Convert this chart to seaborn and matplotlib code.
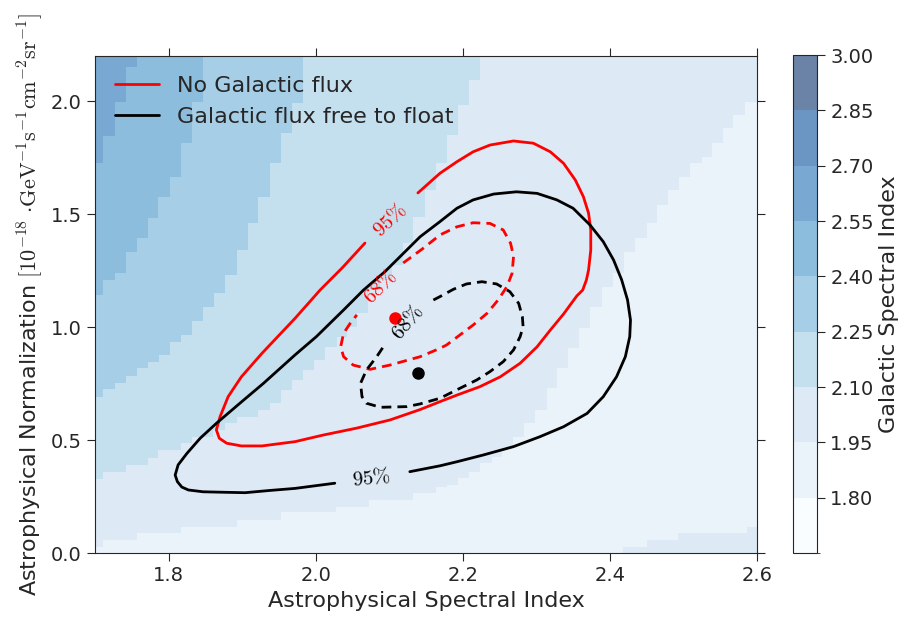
import matplotlib
matplotlib.use("Agg")
import matplotlib.pyplot as plt
import seaborn as sns
import numpy as np
from matplotlib.colors import BoundaryNorm, ListedColormap
from matplotlib.cm import ScalarMappable
from matplotlib.lines import Line2D

# galactic spectral index bins shown in the colour bar
cbar_levels = [1.65, 1.80, 1.95, 2.10, 2.25, 2.40, 2.55, 2.70, 2.85, 3.00]

# staircase edges of the best-fit galactic index map (x edge starting at each y)
b195_y = [0.0, 0.027, 0.058, 0.089, 0.115, 0.146, 0.181, 0.204, 0.235, 0.266,
          0.292, 0.301, 0.332, 0.359, 0.398, 0.425, 0.465, 0.513, 0.575, 0.633,
          0.730, 0.819, 0.907, 0.996, 1.089, 1.177, 1.239, 1.332, 1.394, 1.461,
          1.540, 1.607, 1.664, 1.726, 1.753, 1.815, 1.881, 1.939, 1.996, 2.2]
b195_x = [1.700, 1.711, 1.757, 1.817, 1.893, 1.953, 2.028, 2.072, 2.132, 2.164,
          2.179, 2.193, 2.208, 2.223, 2.240, 2.253, 2.268, 2.283, 2.298, 2.314,
          2.328, 2.343, 2.358, 2.373, 2.389, 2.404, 2.419, 2.434, 2.450, 2.464,
          2.479, 2.494, 2.509, 2.525, 2.539, 2.554, 2.567, 2.584, 2.600, 2.600]
patch_y = [0.0, 0.027, 0.058, 0.089, 0.115]
patch_x = [2.418, 2.450, 2.493, 2.586, 2.600]
b210_y = [0.328, 0.359, 0.390, 0.421, 0.456, 0.487, 0.513, 0.544, 0.575, 0.602,
          0.633, 0.664, 0.722, 0.766, 0.810, 0.854, 0.912, 0.956, 1.000, 1.062,
          1.164, 1.208, 1.275, 1.372, 1.487, 1.607, 1.726, 1.850, 1.983, 2.094, 2.2]
b210_x = [1.711, 1.742, 1.772, 1.786, 1.817, 1.832, 1.860, 1.877, 1.893, 1.922,
          1.938, 1.953, 1.968, 1.983, 1.998, 2.013, 2.029, 2.043, 2.056, 2.071,
          2.087, 2.104, 2.119, 2.132, 2.149, 2.164, 2.179, 2.193, 2.208, 2.223, 2.223]
b225_y = [0.691, 0.726, 0.753, 0.784, 0.819, 0.845, 0.876, 0.934, 0.965, 1.027,
          1.089, 1.151, 1.231, 1.341, 1.461, 1.576, 1.726, 1.859, 1.992, 2.2]
b225_x = [1.711, 1.727, 1.742, 1.757, 1.772, 1.787, 1.802, 1.817, 1.832, 1.847,
          1.862, 1.877, 1.893, 1.908, 1.922, 1.938, 1.953, 1.968, 1.983, 1.983]
b240_y = [1.142, 1.208, 1.239, 1.332, 1.394, 1.483, 1.576, 1.664, 1.815, 1.996, 2.2]
b240_x = [1.711, 1.727, 1.742, 1.757, 1.772, 1.786, 1.802, 1.817, 1.832, 1.847, 1.847]
b255_y = [1.726, 1.846, 1.996, 2.151, 2.2]
b255_x = [1.711, 1.727, 1.742, 1.757, 1.757]

# 95% contour, no galactic flux (gap at the label)
red95_x = [2.139, 2.169, 2.192, 2.214, 2.237, 2.269, 2.296, 2.319, 2.337, 2.353,
           2.364, 2.371, 2.374, 2.374, 2.371, 2.368, 2.363, 2.355, 2.346, 2.337,
           2.319, 2.301, 2.278, 2.251, 2.223, 2.192, 2.169, 2.142, 2.101, 2.056,
           2.010, 1.972, 1.927, 1.899, 1.879, 1.869, 1.865, 1.870, 1.881, 1.899,
           1.927, 1.972, 2.006, 2.036, 2.067]
red95_y = [1.594, 1.681, 1.732, 1.776, 1.806, 1.824, 1.814, 1.776, 1.725, 1.651,
           1.577, 1.504, 1.430, 1.341, 1.253, 1.208, 1.164, 1.138, 1.098, 1.058,
           0.987, 0.913, 0.840, 0.780, 0.736, 0.699, 0.670, 0.635, 0.589, 0.553,
           0.522, 0.493, 0.474, 0.474, 0.486, 0.508, 0.545, 0.603, 0.692, 0.780,
           0.884, 1.039, 1.164, 1.262, 1.372]
# 95% contour, galactic flux free
blk95_x = [2.128, 2.169, 2.192, 2.228, 2.269, 2.305, 2.337, 2.369, 2.391, 2.409,
           2.421, 2.427, 2.428, 2.424, 2.416, 2.405, 2.391, 2.373, 2.350, 2.328,
           2.301, 2.273, 2.242, 2.214, 2.192, 2.169, 2.142, 2.094, 2.065, 2.038,
           2.001, 1.972, 1.929, 1.897, 1.865, 1.843, 1.825, 1.813, 1.809, 1.812,
           1.818, 1.827, 1.847, 1.874, 1.904, 1.938, 1.972, 2.026]
blk95_y = [0.360, 0.386, 0.404, 0.434, 0.471, 0.515, 0.559, 0.618, 0.692, 0.780,
           0.869, 0.958, 1.031, 1.120, 1.209, 1.297, 1.378, 1.452, 1.526, 1.563,
           1.592, 1.599, 1.589, 1.563, 1.526, 1.467, 1.400, 1.245, 1.164, 1.076,
           0.958, 0.877, 0.751, 0.663, 0.574, 0.508, 0.441, 0.390, 0.345, 0.316,
           0.292, 0.279, 0.271, 0.269, 0.267, 0.277, 0.286, 0.309]
# 68% contours
red68_x = [2.119, 2.145, 2.169, 2.192, 2.214, 2.237, 2.255, 2.265, 2.269, 2.267,
           2.260, 2.248, 2.233, 2.214, 2.196, 2.178, 2.169, 2.142, 2.101, 2.074,
           2.051, 2.038, 2.034, 2.038, 2.047, 2.056]
red68_y = [1.284, 1.346, 1.408, 1.444, 1.462, 1.459, 1.430, 1.371, 1.312, 1.238,
           1.179, 1.120, 1.061, 1.009, 0.965, 0.921, 0.906, 0.869, 0.832, 0.813,
           0.832, 0.869, 0.913, 0.973, 1.017, 1.054]
blk68_x = [2.160, 2.169, 2.187, 2.205, 2.226, 2.246, 2.264, 2.276, 2.281, 2.282,
           2.278, 2.269, 2.255, 2.237, 2.219, 2.196, 2.169, 2.142, 2.124, 2.088,
           2.069, 2.063, 2.061, 2.069, 2.083, 2.092]
blk68_y = [1.120, 1.135, 1.167, 1.191, 1.201, 1.191, 1.157, 1.105, 1.046, 1.002,
           0.958, 0.899, 0.847, 0.803, 0.766, 0.729, 0.685, 0.660, 0.648, 0.645,
           0.663, 0.692, 0.751, 0.810, 0.869, 0.913]

# best-fit points
best_red = (2.108, 1.040)
best_blk = (2.139, 0.797)

sns.set_style("ticks")
plt.rcParams["mathtext.fontset"] = "cm"

fig = plt.figure(figsize=(9.09, 6.26), dpi=100)
ax = fig.add_axes([0.1045, 0.1166, 0.7283, 0.7939])
cax = fig.add_axes([0.8724, 0.1166, 0.0264, 0.7955])

# Blues at alpha 0.6 over white
blues = plt.get_cmap("Blues")
band_cols = [tuple(0.6 * np.array(blues(i / 8)[:3]) + 0.4) for i in range(9)]
cmap = ListedColormap(band_cols)
norm = BoundaryNorm(cbar_levels, 9)

ax.set_facecolor(band_cols[1])
ax.fill_betweenx(b195_y, 1.7, b195_x, step="post", color=band_cols[2], lw=0)
ax.fill_betweenx(patch_y, patch_x, 2.6, step="post", color=band_cols[2], lw=0)
ax.fill_betweenx(b210_y, 1.7, b210_x, step="post", color=band_cols[3], lw=0)
ax.fill_betweenx(b225_y, 1.7, b225_x, step="post", color=band_cols[4], lw=0)
ax.fill_betweenx(b240_y, 1.7, b240_x, step="post", color=band_cols[5], lw=0)
ax.fill_betweenx(b255_y, 1.7, b255_x, step="post", color=band_cols[6], lw=0)

dash = (0, (3.5, 2.2))
sns.lineplot(x=red95_x, y=red95_y, sort=False, estimator=None, color="red", lw=2, ax=ax)
sns.lineplot(x=blk95_x, y=blk95_y, sort=False, estimator=None, color="black", lw=2, ax=ax)
ax.plot(red68_x, red68_y, color="red", lw=2, ls=dash)
ax.plot(blk68_x, blk68_y, color="black", lw=2, ls=dash)
ax.plot(*best_red, "o", color="red", ms=8)
ax.plot(*best_blk, "o", color="black", ms=8)

ax.text(2.101, 1.474, r"$95\%$", color="red", fontsize=15, rotation=43, ha="center", va="center")
ax.text(2.0875, 1.1775, r"$68\%$", color="red", fontsize=15, rotation=45, ha="center", va="center")
ax.text(2.076, 0.332, r"$95\%$", color="black", fontsize=15, rotation=6, ha="center", va="center")
ax.text(2.1255, 1.0225, r"$68\%$", color="black", fontsize=15, rotation=50, ha="center", va="center")

ax.set_xlim(1.7, 2.6)
ax.set_ylim(0, 2.2)
ax.set_xticks([1.8, 2.0, 2.2, 2.4, 2.6])
ax.set_yticks([0.0, 0.5, 1.0, 1.5, 2.0])
ax.xaxis.set_major_formatter("{x:.1f}")
ax.yaxis.set_major_formatter("{x:.1f}")
ax.tick_params(top=True, right=True, direction="out", length=6, labelsize=14)
ax.set_xlabel("Astrophysical Spectral Index", fontsize=16)
ax.set_ylabel(r"Astrophysical Normalization $[10^{-18}\ {\cdot}\mathrm{GeV}^{-1}\mathrm{s}^{-1}"
              r"\mathrm{cm}^{-2}\mathrm{sr}^{-1}]$", fontsize=16)

handles = [Line2D([], [], color="red", lw=2), Line2D([], [], color="black", lw=2)]
ax.legend(handles, ["No Galactic flux", "Galactic flux free to float"],
          loc="upper left", frameon=False, fontsize=16)

cb = fig.colorbar(ScalarMappable(norm=norm, cmap=cmap), cax=cax, ticks=cbar_levels[1:])
cb.ax.yaxis.set_major_formatter("{x:.2f}")
cb.ax.tick_params(labelsize=14, length=6, direction="out")
cb.set_label("Galactic Spectral Index", fontsize=16)

fig.savefig("out.png", dpi=100)
